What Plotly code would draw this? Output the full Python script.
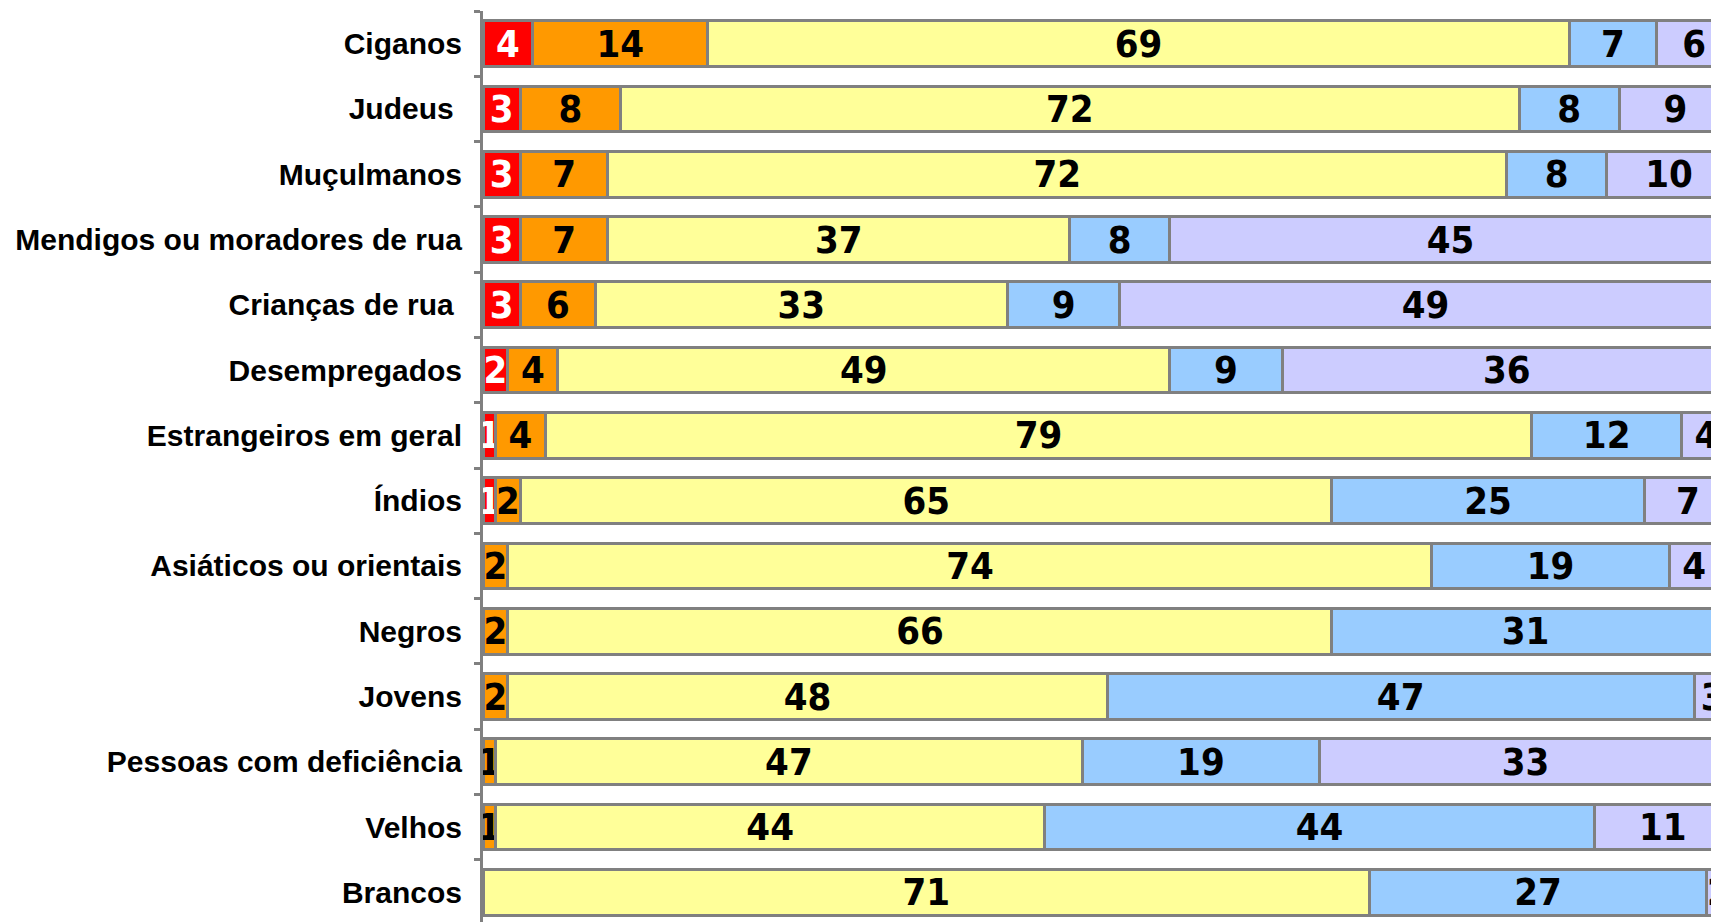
import plotly.graph_objects as go

categories = ["Ciganos", "Judeus ", "Muçulmanos", "Mendigos ou moradores de rua", "Crianças de rua ",
              "Desempregados", "Estrangeiros em geral", "Índios", "Asiáticos ou orientais", "Negros",
              "Jovens", "Pessoas com deficiência", "Velhos", "Brancos"]

serie1 = [4, 3, 3, 3, 3, 2, 1, 1, 0, 0, 0, 0, 0, 0]
serie2 = [14, 8, 7, 7, 6, 4, 4, 2, 2, 2, 2, 1, 1, 0]
serie3 = [69, 72, 72, 37, 33, 49, 79, 65, 74, 66, 48, 47, 44, 71]
serie4 = [7, 8, 8, 8, 9, 9, 12, 25, 19, 31, 47, 19, 44, 27]
serie5 = [6, 9, 10, 45, 49, 36, 4, 7, 4, 1, 3, 33, 11, 2]

series_names = ["Série 1", "Série 2", "Série 3", "Série 4", "Série 5"]
colors = ["#FF0000", "#FF9900", "#FFFF99", "#99CCFF", "#CCCCFF"]
text_colors = ["white", "black", "black", "black", "black"]

LABEL_FONT = "Liberation Sans Narrow, Arial Narrow, DejaVu Sans Condensed"

fig = go.Figure()
for name, vals, col, tcol in zip(series_names, [serie1, serie2, serie3, serie4, serie5], colors, text_colors):
    fig.add_trace(go.Bar(
        y=categories, x=vals, orientation="h", name=name,
        marker=dict(color=col, line=dict(color="#808080", width=3)),
        text=[str(v) if v else "" for v in vals],
        textposition="inside", insidetextanchor="middle",
        textangle=0,
        textfont=dict(family=LABEL_FONT, size=38, color=tcol, weight="bold"),
        cliponaxis=True,
        hoverinfo="skip",
    ))

fig.update_layout(
    barmode="stack", bargap=0.3,
    width=1711, height=914,
    margin=dict(l=475, r=0, t=3, b=0),
    paper_bgcolor="white", plot_bgcolor="white",
    showlegend=False,
    uniformtext=dict(minsize=38, mode="show"),
    font=dict(family="Liberation Sans, Arial", color="black"),
)
fig.update_xaxes(range=[0, 99], showgrid=False, zeroline=False, showticklabels=False, showline=False, ticks="")
fig.update_yaxes(
    type="category", categoryorder="array", categoryarray=categories,
    range=[13.454, -0.5],
    showgrid=False, zeroline=False,
    showline=True, linecolor="#808080", linewidth=3,
    ticks="outside", tickson="boundaries", ticklen=6, tickwidth=3, tickcolor="#808080",
    ticklabelstandoff=12,
    tickfont=dict(family="Liberation Sans, Arial", size=30, color="black", weight="bold"),
)

fig.write_html("out.html")
